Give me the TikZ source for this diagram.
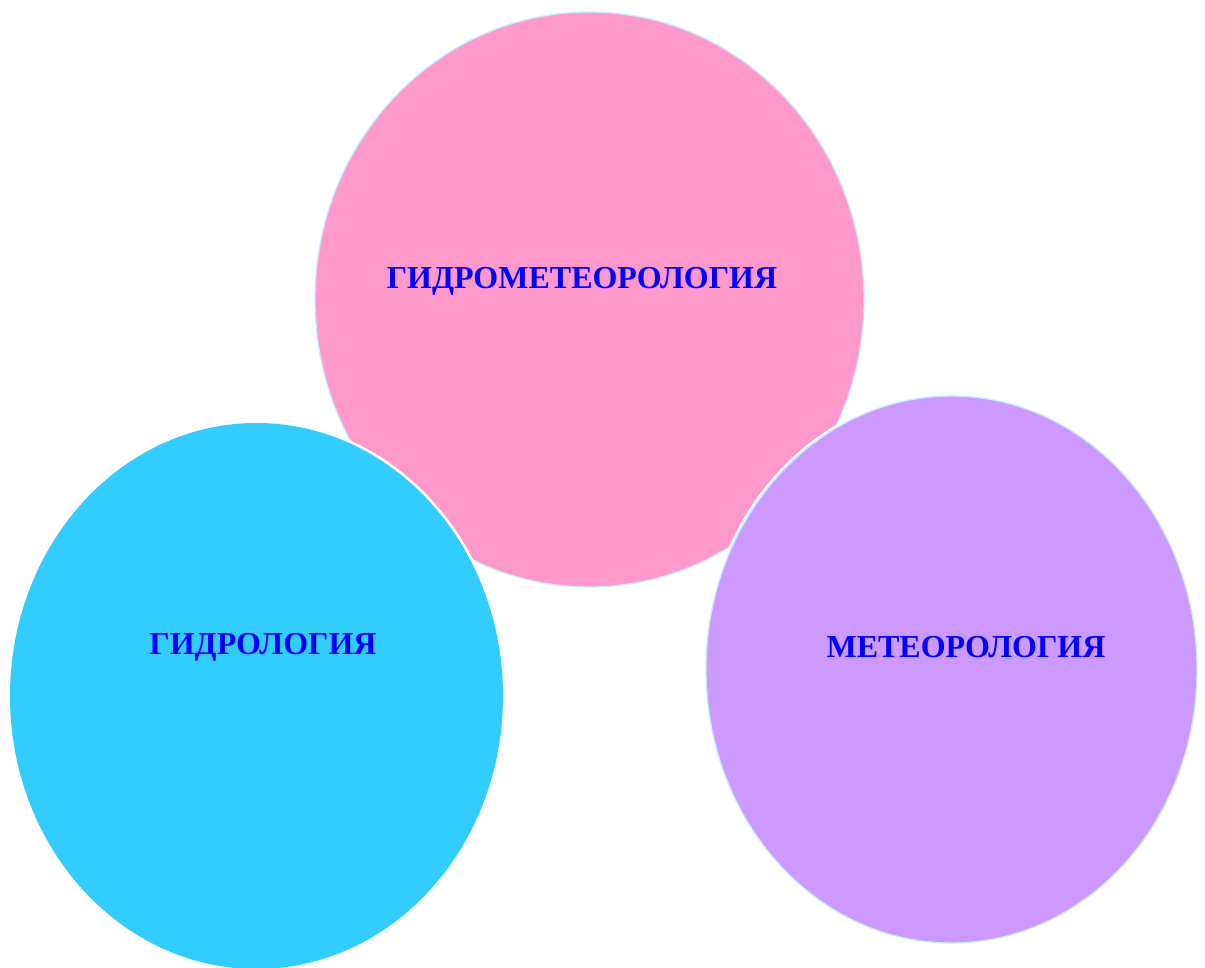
\documentclass[tikz,border=0pt]{standalone}
\usepackage{fontspec}
\setmainfont{Liberation Serif}
\definecolor{pinkfill}{HTML}{FF99CC}
\definecolor{cyanfill}{HTML}{33CCFF}
\definecolor{lilacfill}{HTML}{CC99FF}
\definecolor{rimblue}{HTML}{C8ECFF}
\definecolor{textblue}{HTML}{0000FF}
\begin{document}
\begin{tikzpicture}[x=0.75pt, y=-0.75pt,
    lbl/.style={text=textblue, font=\fontsize{24}{28}\selectfont\bfseries, inner sep=0pt},
    halo/.style={draw=white, line width=4pt},
    rim/.style={draw=rimblue, line width=1pt}]
            \useasboundingbox (0, 0) rectangle (1205, 967);
            \clip (0, 0) rectangle (1205, 967);
            % upper circle
            \fill[pinkfill] (589.5, 299.5) ellipse [x radius=274.5, y radius=287.5];
            \draw[rim] (589.5, 299.5) ellipse [x radius=274.5, y radius=287.5];
            % left circle
            \draw[halo] (256.5, 696) ellipse [x radius=246.5, y radius=273];
            \fill[cyanfill] (256.5, 696) ellipse [x radius=246.5, y radius=273];
            % right circle
            \draw[halo] (951.5, 669.5) ellipse [x radius=245.5, y radius=273.5];
            \fill[lilacfill] (951.5, 669.5) ellipse [x radius=245.5, y radius=273.5];
            \draw[rim] (951.5, 669.5) ellipse [x radius=245.5, y radius=273.5];
            \node[lbl] (hydromet) at (582, 281) {ГИДРОМЕТЕОРОЛОГИЯ};
            \node[lbl] (hydro) at (263, 647) {ГИДРОЛОГИЯ};
            \node[lbl] (meteo) at (966, 647) {МЕТЕОРОЛОГИЯ};
        \end{tikzpicture}
\end{document}
